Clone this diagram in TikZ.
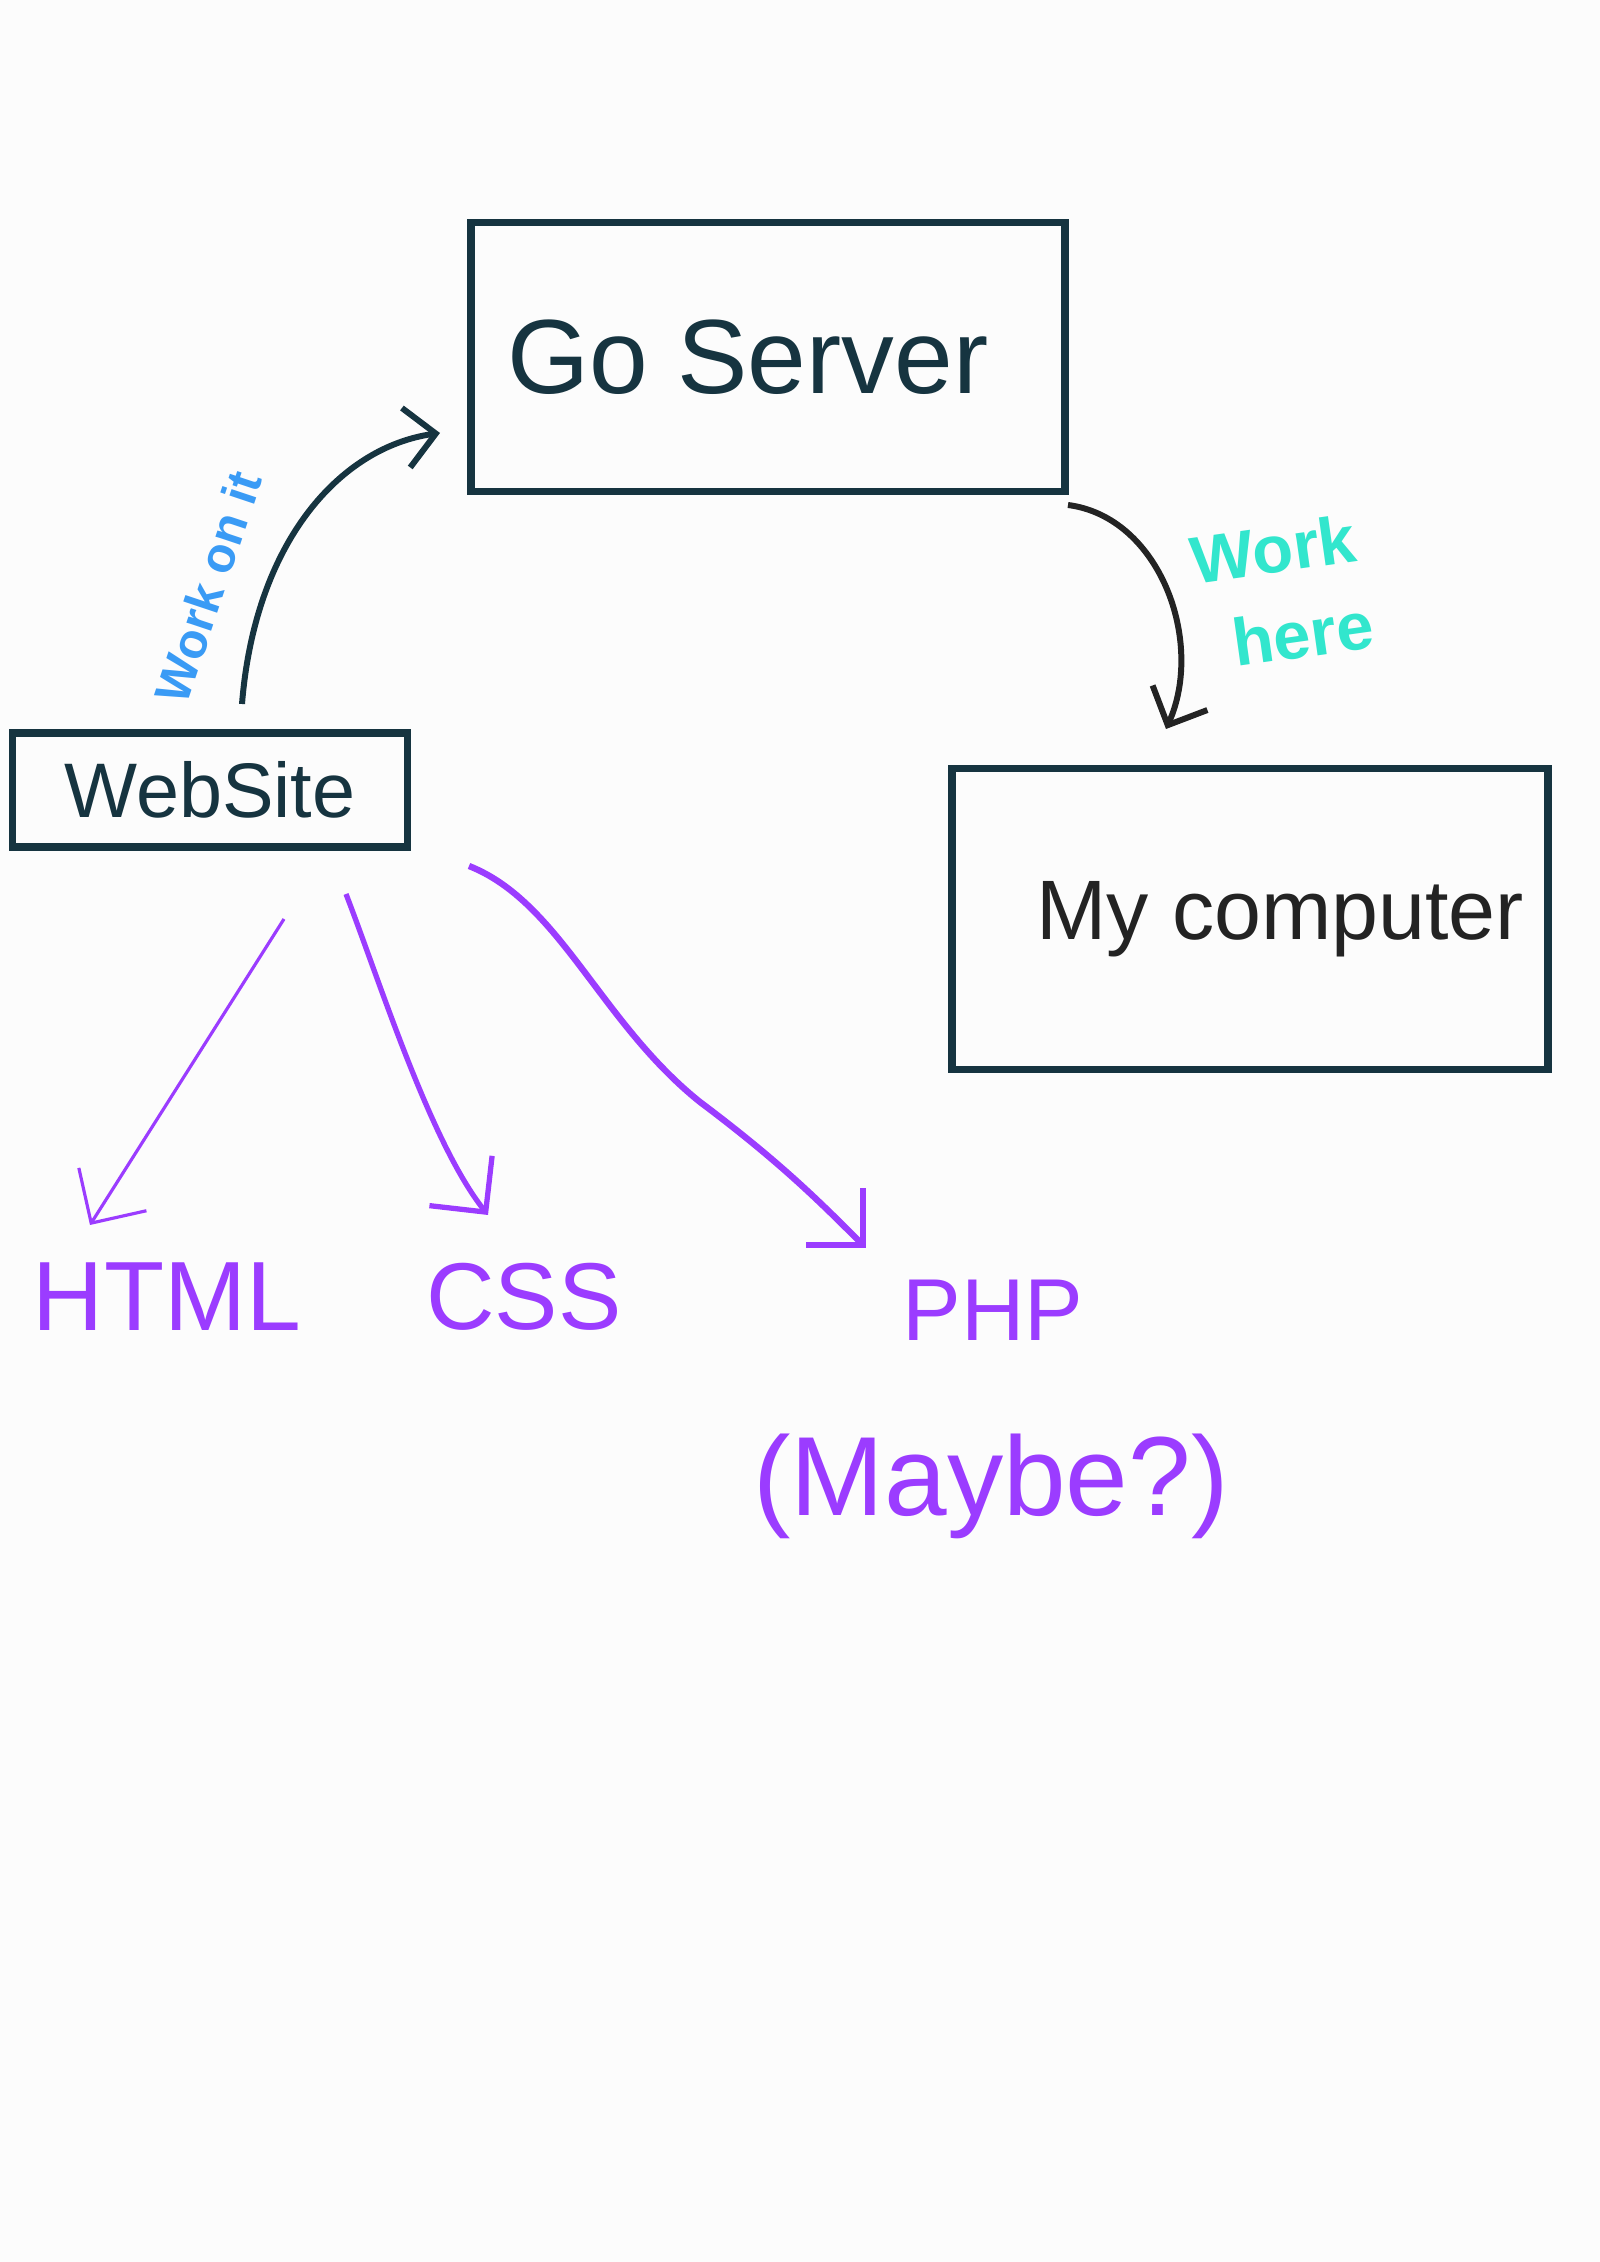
\documentclass[tikz,border=0pt]{standalone}
\usepackage{fontspec}
\setmainfont{Liberation Sans}
\usepackage{xcolor}
\usetikzlibrary{arrows.meta, positioning}
\definecolor{paperwhite}{RGB}{252,252,252}
\definecolor{boxnavy}{RGB}{22,52,64}
\definecolor{inkblack}{RGB}{35,35,35}
\definecolor{langpurple}{RGB}{155,60,255}
\definecolor{noteblue}{RGB}{58,155,245}
\definecolor{noteteal}{RGB}{50,230,205}

\begin{document}
\begin{tikzpicture}[x=0.01cm, y=0.01cm,
  box/.style={draw=boxnavy, line width=2.2pt, inner sep=0pt},
  flow/.style={line width=1.7pt, -{Straight Barb[length=3mm, width=6mm]}},
  langarrow/.style={langpurple, line width=1.5pt, -{Straight Barb[length=4mm, width=8mm]}},
  lang/.style={text=langpurple, inner sep=0pt}]

% Page
\fill[paperwhite] (0,0) rectangle (1600,2262);
\useasboundingbox (0,0) rectangle (1600,2262);

% Boxes
\node[box, minimum width=5.93cm, minimum height=2.69cm, text=boxnavy,
  font=\fontsize{30}{34}\selectfont] at (768,1905) (go) {Go Server\hspace*{0.4cm}};
\node[box, minimum width=3.95cm, minimum height=1.14cm, text=boxnavy,
  font=\fontsize{22}{26}\selectfont] at (210,1472) (web) {WebSite};
\node[box, minimum width=5.96cm, minimum height=3.01cm, text=inkblack,
  font=\fontsize{24}{28}\selectfont] at (1250,1343) (mypc) {\hspace*{0.6cm}My computer};

% Languages
\node[lang, font=\fontsize{28}{32}\selectfont] at (167,965) (html) {HTML};
\node[lang, font=\fontsize{27}{32}\selectfont] at (524,965) (css) {CSS};
\node[lang, font=\fontsize{25}{30}\selectfont] at (993,952) (php) {PHP};
\node[lang, font=\fontsize{32}{38}\selectfont] at (991,776) (maybe) {(Maybe?)};

% Free ends of the arrows
\coordinate (webtop) at (242,1558);
\coordinate (goleft) at (440,1829);
\coordinate (gocorner) at (1068,1757);
\coordinate (pctop) at (1166,1533);
\coordinate (websouth1) at (284,1343);
\coordinate (websouth2) at (346,1368);
\coordinate (websouth3) at (469,1396);
\coordinate (htmltop) at (90,1037);
\coordinate (csstop) at (488,1047);
\coordinate (phptop) at (866,1014);

% Website to Go server
\draw[flow, boxnavy] (webtop) .. controls (255,1720) and (340,1815) .. (goleft);
\node[text=noteblue, rotate=71.5, font=\fontsize{14}{16}\selectfont\bfseries]
  at (208,1675) (workon) {Work on it};

% Go server to my computer
\draw[flow, inkblack] (gocorner) .. controls (1160,1745) and (1205,1620) .. (pctop);
\node[text=noteteal, rotate=8, align=left, font=\fontsize{19}{25}\selectfont\bfseries]
  at (1282,1670) (workhere) {Work\\\hspace*{0.3cm}here};

% Website to languages
\draw[langarrow, line width=0.9pt] (websouth1) -- (htmltop);
\draw[langarrow] (websouth2) .. controls (380,1280) and (430,1120) .. (csstop);
\draw[langarrow, line width=1.8pt] (websouth3) .. controls (560,1360) and (600,1240) .. (700,1160)
  .. controls (780,1100) and (820,1060) .. (phptop);

\end{tikzpicture}
\end{document}
